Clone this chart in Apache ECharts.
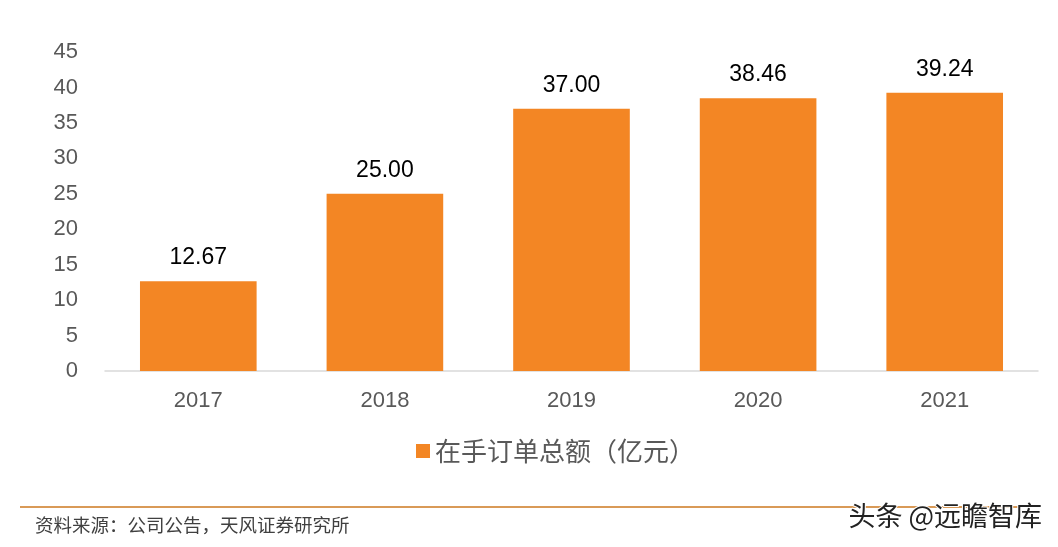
<!DOCTYPE html>
<html><head><meta charset="utf-8">
<script src="https://cdn.jsdelivr.net/npm/echarts@6/dist/echarts.min.js"></script>
<style>html,body{margin:0;padding:0;background:#fff}#c{width:1058px;height:547px}</style>
</head><body><div id="c"></div>
<script>
const categories = ['2017','2018','2019','2020','2021'];
const values = [12.67, 25.00, 37.00, 38.46, 39.24];
const seriesName = '在手订单总额（亿元）';
const yTicks = {min:0, max:45, interval:5};
const font = '"Liberation Sans", Arial, "Noto Sans CJK SC", sans-serif';
const chart = echarts.init(document.getElementById('c'));
chart.setOption({
  animation:false,
  grid:{left:105, right:20, top:52, bottom:176},
  legend:{bottom:78, left:411, itemWidth:14, itemHeight:14, icon:'rect', itemGap:8,
    textStyle:{fontSize:26, color:'#595959', fontFamily:'"Noto Sans CJK SC", sans-serif'}},
  xAxis:{type:'category', data:categories,
    axisLine:{lineStyle:{color:'#d9d9d9', width:1.5}}, axisTick:{show:false},
    axisLabel:{fontSize:22, color:'#595959', margin:19, fontFamily:font}},
  yAxis:{type:'value', min:yTicks.min, max:yTicks.max, interval:yTicks.interval,
    splitLine:{show:false}, axisLine:{show:false}, axisTick:{show:false},
    axisLabel:{fontSize:22, color:'#595959', margin:27, fontFamily:font}},
  series:[{name:seriesName, type:'bar', data:values, barWidth:'62.5%',
    itemStyle:{color:'#F38624'},
    label:{show:true, position:'top', distance:12, fontSize:23, color:'#000', fontFamily:font,
      formatter:p=>p.value.toFixed(2)}}],
  graphic:[
    {type:'line', shape:{x1:20, y1:507, x2:1040, y2:507}, style:{stroke:'#D99A57', lineWidth:2}},
    {type:'text', left:35, top:516, style:{text:'资料来源：公司公告，天风证券研究所', fill:'#404040', font:'18.5px "Noto Sans CJK SC", sans-serif'}},
    {type:'text', right:15, top:501, style:{text:'头条 @远瞻智库', fill:'#222', stroke:'#fff', lineWidth:2, font:'27px "Noto Sans CJK SC", sans-serif'}}
  ]
});
</script></body></html>
